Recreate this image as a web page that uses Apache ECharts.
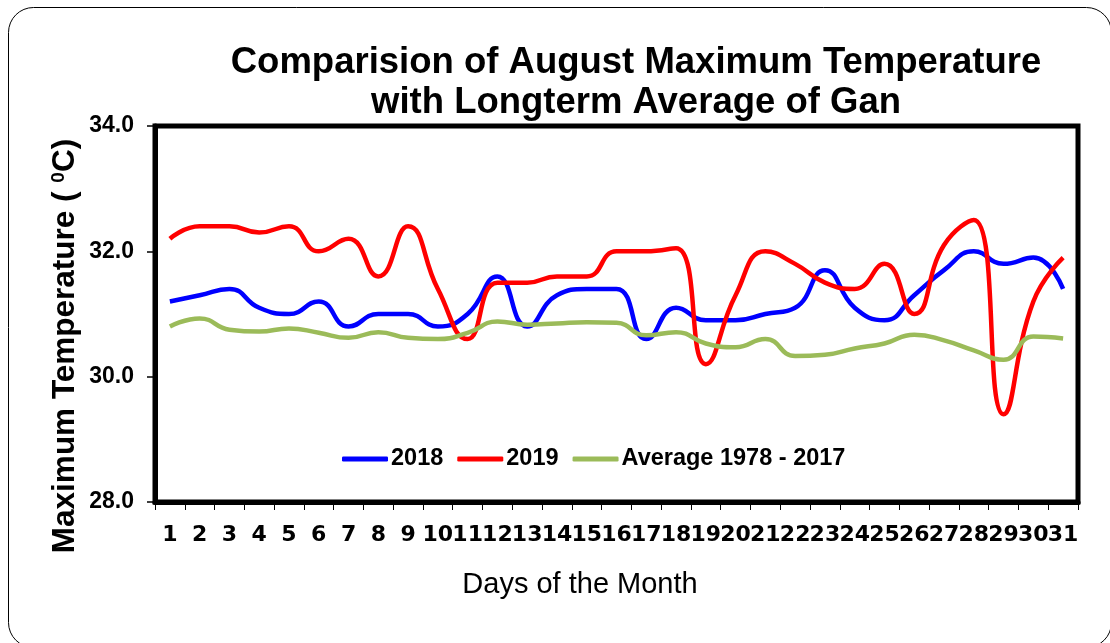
<!DOCTYPE html>
<html lang="en">
<head>
    <meta charset="UTF-8">
    <title>August Maximum Temperature - Gan</title>
    <script src="https://cdn.jsdelivr.net/npm/echarts@6/dist/echarts.min.js"></script>
    <style>
        html, body { margin: 0; padding: 0; background: #fff; }
    </style>
</head>
<body>
    <div style="height: 643px;width: 1110px" id="chartBox"></div>
    <script type="text/javascript">
        // data
        var days = [];
        for (var d = 1; d <= 31; d++) days.push(String(d));
        var t2018 = [31.2, 31.3, 31.4, 31.1, 31.0, 31.2, 30.8, 31.0, 31.0, 30.8, 31.0, 31.6, 30.8, 31.3, 31.4, 31.4,
                     30.6, 31.1, 30.9, 30.9, 31.0, 31.1, 31.7, 31.1, 30.9, 31.3, 31.7, 32.0, 31.8, 31.9, 31.4];
        var t2019 = [32.2, 32.4, 32.4, 32.3, 32.4, 32.0, 32.2, 31.6, 32.4, 31.4, 30.6, 31.5, 31.5, 31.6, 31.6, 32.0,
                     32.0, 32.05, 30.2, 31.3, 32.0, 31.8, 31.5, 31.4, 31.8, 31.0, 32.1, 32.5, 29.4, 31.2, 31.9];
        var tAvg = [30.80, 30.93, 30.75, 30.72, 30.77, 30.70, 30.62, 30.71, 30.62, 30.60, 30.70, 30.88, 30.83, 30.85,
                    30.87, 30.86, 30.66, 30.71, 30.53, 30.47, 30.60, 30.33, 30.35, 30.45, 30.53, 30.67, 30.58, 30.42,
                    30.27, 30.64, 30.61];
        var seriesNames = ['2018', '2019', 'Average 1978 - 2017'];

        var arial = "'Liberation Sans', Arial, sans-serif";
        var chart = echarts.init(document.getElementById("chartBox"));

        function lineSeries(name, data, color) {
            return {
                name: name,
                type: 'line',
                data: data,
                smooth: 0.5,
                showSymbol: false,
                symbol: 'none',
                lineStyle: { color: color, width: 4.5 },
                itemStyle: { color: color }
            };
        }

        var option = {
            animation: false,
            backgroundColor: '#fff',
            title: {
                text: 'Comparision of August Maximum Temperature\nwith Longterm Average of Gan',
                left: 631,
                top: 38,
                textAlign: 'center',
                textStyle: {
                    fontFamily: arial,
                    fontWeight: 'bold',
                    fontSize: 36.5,
                    lineHeight: 40,
                    color: '#000'
                }
            },
            legend: {
                data: seriesNames,
                left: 337,
                top: 442,
                icon: 'roundRect',
                itemWidth: 46,
                itemHeight: 5,
                itemGap: 14,
                textStyle: {
                    fontFamily: arial,
                    fontWeight: 'bold',
                    fontSize: 23.5,
                    color: '#000',
                    padding: [0, 0, 0, -2]
                }
            },
            grid: {
                left: 155,
                top: 126,
                width: 923,
                height: 376,
                show: true,
                borderColor: '#000',
                borderWidth: 5,
                containLabel: false
            },
            xAxis: {
                type: 'category',
                data: days,
                boundaryGap: true,
                axisLine: { show: true, lineStyle: { color: '#000', width: 5 } },
                axisTick: { show: true, length: 8, interval: 0, lineStyle: { color: '#000', width: 1 } },
                axisLabel: {
                    interval: 0,
                    margin: 22,
                    fontFamily: "'DejaVu Sans', sans-serif",
                    fontWeight: 'bold',
                    fontSize: 22,
                    color: '#000'
                }
            },
            yAxis: {
                type: 'value',
                min: 28,
                max: 34,
                interval: 2,
                splitLine: { show: false },
                axisLine: { show: true, lineStyle: { color: '#000', width: 5 } },
                axisTick: { show: true, length: 8, lineStyle: { color: '#000', width: 1.5 } },
                axisLabel: {
                    margin: 21,
                    fontFamily: arial,
                    fontWeight: 'bold',
                    fontSize: 23,
                    color: '#000',
                    formatter: function (v) { return v.toFixed(1); }
                }
            },
            graphic: [
                {
                    type: 'rect',
                    silent: true,
                    shape: { x: 8.5, y: 7.5, width: 1103, height: 640, r: 25 },
                    style: { fill: 'none', stroke: '#000', lineWidth: 1 },
                    z: -1
                },
                {
                    type: 'text',
                    x: 65,
                    y: 346,
                    rotation: Math.PI / 2,
                    style: {
                        text: 'Maximum Temperature ( {sup|0}C)',
                        fontFamily: arial,
                        fontWeight: 'bold',
                        fontSize: 31.5,
                        fill: '#000',
                        align: 'center',
                        verticalAlign: 'middle',
                        rich: {
                            sup: {
                                fontFamily: arial,
                                fontWeight: 'bold',
                                fontSize: 19,
                                verticalAlign: 'top',
                                lineHeight: 19
                            }
                        }
                    }
                },
                {
                    type: 'text',
                    x: 580,
                    y: 585,
                    style: {
                        text: 'Days of the Month',
                        fontFamily: arial,
                        fontSize: 29,
                        fill: '#000',
                        align: 'center',
                        verticalAlign: 'middle'
                    }
                }
            ],
            series: [
                lineSeries(seriesNames[0], t2018, '#0000FF'),
                lineSeries(seriesNames[1], t2019, '#FF0000'),
                lineSeries(seriesNames[2], tAvg, '#9BBB59')
            ]
        };

        chart.setOption(option);
    </script>
</body>
</html>
